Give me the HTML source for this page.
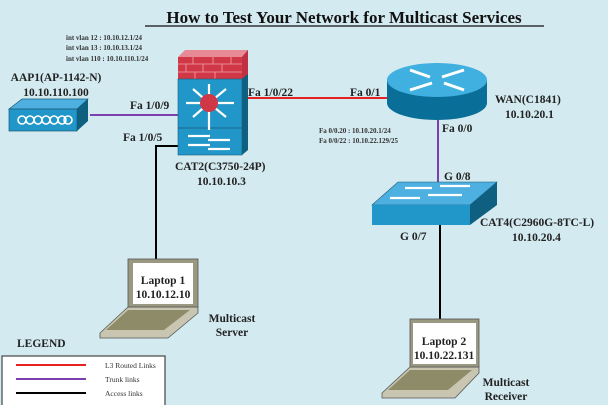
<!DOCTYPE html>
<html><head><style>
html,body{margin:0;padding:0;background:#d3eaf0;}
svg{display:block;font-family:"Liberation Serif",serif;font-weight:bold;}
</style></head><body>
<svg width="608" height="405" viewBox="0 0 608 405" xmlns="http://www.w3.org/2000/svg">
<rect width="608" height="405" fill="#d3eaf0"/>
<text x="344" y="23" font-size="17" text-anchor="middle" fill="#111">How to Test Your Network for Multicast Services</text>
<line x1="145" y1="26" x2="544" y2="26" stroke="#111" stroke-width="1.3"/>
<g font-size="7" fill="#333">
<text x="66" y="40">int vlan 12  : 10.10.12.1/24</text>
<text x="66" y="50">int vlan 13  : 10.10.13.1/24</text>
<text x="66" y="61">int vlan 110 : 10.10.110.1/24</text>
</g>
<!-- links -->
<line x1="90" y1="115" x2="180" y2="115" stroke="#7b3fb0" stroke-width="2"/>
<line x1="248" y1="98" x2="390" y2="98" stroke="#e82020" stroke-width="2"/>
<line x1="438" y1="118" x2="438" y2="182" stroke="#7b3fb0" stroke-width="2"/>
<polyline points="180,146 156,146 156,260" fill="none" stroke="#000" stroke-width="2"/>
<line x1="440" y1="222" x2="440" y2="322" stroke="#000" stroke-width="2"/>
<!-- AP -->
<polygon points="9,109 22,99 88,99 77,109" fill="#4db0e0" stroke="#1a5a78" stroke-width="0.7"/>
<polygon points="77,109 88,99 88,121 77,131" fill="#0f5f80"/>
<rect x="9" y="109" width="68" height="22" fill="#2196c8" stroke="#1a5a78" stroke-width="0.7"/>
<g fill="none" stroke="#fff" stroke-width="1.6">
<circle cx="22" cy="120" r="4"/><circle cx="30" cy="120" r="4"/><circle cx="38" cy="120" r="4"/><circle cx="46" cy="120" r="4"/><circle cx="54" cy="120" r="4"/><circle cx="62" cy="120" r="4"/><circle cx="68" cy="120" r="4"/>
</g>
<g font-size="11.5" fill="#222">
<text x="56" y="81" text-anchor="middle">AAP1(AP-1142-N)</text>
<text x="56" y="96" text-anchor="middle">10.10.110.100</text>
<text x="130" y="109">Fa 1/0/9</text>
<text x="123" y="141">Fa 1/0/5</text>
<text x="248" y="96">Fa 1/0/22</text>
<text x="350" y="96">Fa 0/1</text>
<text x="442" y="132">Fa 0/0</text>
<text x="444" y="180">G 0/8</text>
<text x="400" y="240">G 0/7</text>
<text x="175" y="170">CAT2(C3750-24P)</text>
<text x="197" y="185">10.10.10.3</text>
<text x="495" y="103">WAN(C1841)</text>
<text x="505" y="118">10.10.20.1</text>
<text x="480" y="226">CAT4(C2960G-8TC-L)</text>
<text x="512" y="241">10.10.20.4</text>
<text x="232" y="322" text-anchor="middle">Multicast</text>
<text x="232" y="336" text-anchor="middle">Server</text>
<text x="506" y="386" text-anchor="middle">Multicast</text>
<text x="506" y="400" text-anchor="middle">Receiver</text>
<text x="17" y="347">LEGEND</text>
</g>
<g font-size="7" fill="#333">
<text x="319" y="133">Fa 0/0.20 : 10.10.20.1/24</text>
<text x="319" y="143">Fa 0/0/22 : 10.10.22.129/25</text>
</g>
<!-- CAT2 -->
<polygon points="178,57 185,50 248,50 242,57" fill="#e88a95"/>
<polygon points="242,57 248,50 248,150 242,155" fill="#0f5f80"/>
<polygon points="242,57 248,50 248,74 242,79" fill="#c03040"/>
<rect x="178" y="57" width="64" height="22" fill="#d03848"/>
<g stroke="#f0a0a8" stroke-width="0.8">
<line x1="178" y1="64" x2="242" y2="64"/><line x1="178" y1="72" x2="242" y2="72"/>
<line x1="193" y1="57" x2="193" y2="64"/><line x1="213" y1="57" x2="213" y2="64"/><line x1="231" y1="57" x2="231" y2="64"/>
<line x1="186" y1="64" x2="186" y2="72"/><line x1="203" y1="64" x2="203" y2="72"/><line x1="222" y1="64" x2="222" y2="72"/>
<line x1="195" y1="72" x2="195" y2="79"/><line x1="215" y1="72" x2="215" y2="79"/>
</g>
<rect x="178" y="79" width="64" height="76" fill="#2196c8" stroke="#1a5a78" stroke-width="0.6"/>
<line x1="178" y1="128" x2="242" y2="128" stroke="#1a5a78" stroke-width="0.8"/>
<g stroke="#fff" stroke-width="2.2">
<line x1="209" y1="103" x2="209" y2="84"/><line x1="209" y1="103" x2="209" y2="130"/>
<line x1="209" y1="103" x2="186" y2="103"/><line x1="209" y1="103" x2="234" y2="103"/>
<line x1="209" y1="103" x2="193" y2="89"/><line x1="209" y1="103" x2="226" y2="89"/>
<line x1="209" y1="103" x2="193" y2="117"/><line x1="209" y1="103" x2="226" y2="117"/>
<line x1="188" y1="136" x2="210" y2="136"/><line x1="188" y1="145" x2="210" y2="145"/>
<line x1="208" y1="140" x2="230" y2="140"/><line x1="208" y1="149" x2="230" y2="149"/>
</g>
<circle cx="209" cy="103" r="9" fill="#d03848"/>
<!-- Router -->
<path d="M387,80 L387,103 A50,17 0 0 0 487,103 L487,80 Z" fill="#0a6f98"/>
<ellipse cx="437" cy="80" rx="50" ry="17" fill="#3fb0e0"/>
<g stroke="#fff" stroke-width="3">
<line x1="410" y1="70" x2="430" y2="77"/><line x1="464" y1="70" x2="442" y2="77"/>
<line x1="410" y1="90" x2="432" y2="83"/><line x1="464" y1="90" x2="444" y2="83"/>
</g>
<!-- CAT4 -->
<polygon points="372,205 398,182 497,182 470,205" fill="#4db0e0" stroke="#1a5a78" stroke-width="0.6"/>
<polygon points="470,205 497,182 497,205 470,225" fill="#0f5f80"/>
<rect x="372" y="205" width="98" height="20" fill="#2196c8"/>
<g stroke="#fff" stroke-width="2.2">
<line x1="405" y1="188" x2="432" y2="188"/><line x1="440" y1="186" x2="470" y2="186"/>
<line x1="390" y1="198" x2="420" y2="198"/><line x1="428" y1="195" x2="462" y2="195"/>
</g>
<!-- Laptop 1 -->
<polygon points="128,307 198,307 198,313 168,338 100,338 100,333" fill="#c8c6b0" stroke="#555" stroke-width="0.8"/>
<polygon points="128,310 190,310 164,330 106,330" fill="#8e8c68"/>
<rect x="128" y="259" width="70" height="48" fill="#9a9880" stroke="#555" stroke-width="0.8"/>
<rect x="133" y="263" width="60" height="41" fill="#fff"/>
<text x="163" y="284" font-size="11.5" text-anchor="middle" fill="#222">Laptop 1</text>
<text x="163" y="298" font-size="11.5" text-anchor="middle" fill="#222">10.10.12.10</text>
<!-- Laptop 2 -->
<polygon points="410,367 479,367 479,373 455,398 382,398 382,393" fill="#c8c6b0" stroke="#555" stroke-width="0.8"/>
<polygon points="410,370 472,370 448,390 388,390" fill="#8e8c68"/>
<rect x="410" y="319" width="69" height="48" fill="#9a9880" stroke="#555" stroke-width="0.8"/>
<rect x="413" y="323" width="63" height="41" fill="#fff"/>
<text x="444" y="345" font-size="11.5" text-anchor="middle" fill="#222">Laptop 2</text>
<text x="444" y="359" font-size="11.5" text-anchor="middle" fill="#222">10.10.22.131</text>
<!-- Legend -->
<rect x="2" y="356" width="163" height="50" fill="#fff" stroke="#444" stroke-width="1.2"/>
<line x1="16" y1="365" x2="86" y2="365" stroke="#e82020" stroke-width="2"/>
<line x1="16" y1="379" x2="86" y2="379" stroke="#7b3fb0" stroke-width="2"/>
<line x1="16" y1="393" x2="86" y2="393" stroke="#000" stroke-width="2"/>
<g font-size="7.5" fill="#333" font-weight="normal">
<text x="105" y="368">L3 Routed Links</text>
<text x="105" y="382">Trunk links</text>
<text x="105" y="396">Access links</text>
</g>
</svg>
</body></html>
